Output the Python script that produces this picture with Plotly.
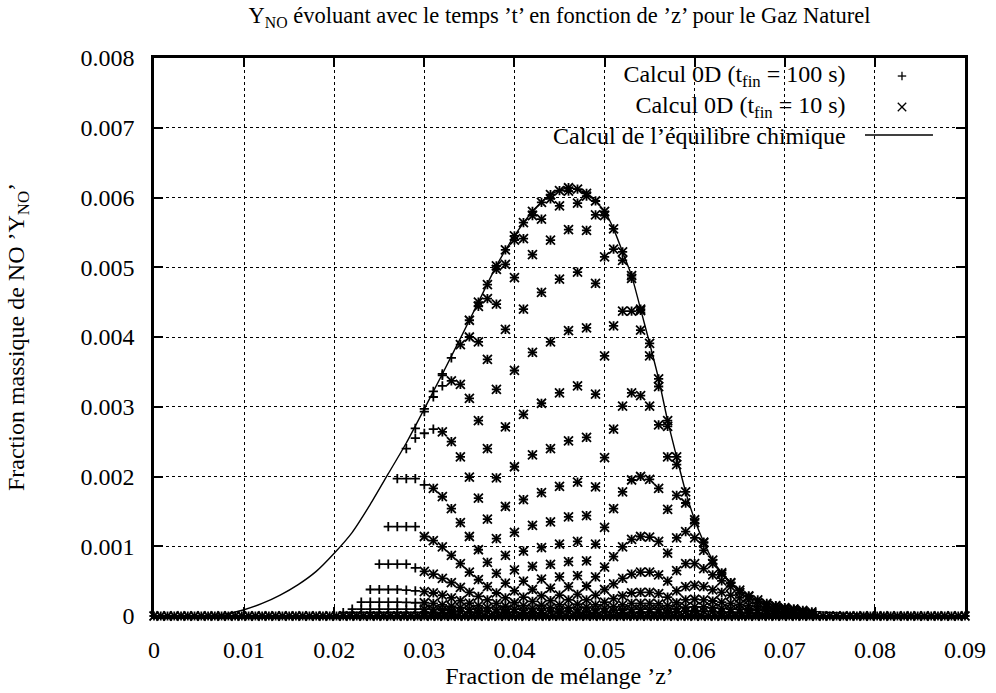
import plotly.graph_objects as go

# ---------------- data (Y_NO values given in units of 1e-3) ----------------
# equilibrium curve
z_eq = [0.000, 0.004, 0.006, 0.008, 0.010, 0.012, 0.014, 0.016, 0.018, 0.020,
        0.022, 0.024, 0.026, 0.028, 0.030, 0.032, 0.034, 0.036, 0.038, 0.040,
        0.042, 0.044, 0.046, 0.048, 0.050, 0.051, 0.052, 0.053, 0.054, 0.055,
        0.056, 0.057, 0.058, 0.059, 0.060, 0.061, 0.062, 0.063, 0.064, 0.065,
        0.066, 0.068, 0.070, 0.072, 0.075, 0.080, 0.085, 0.090]
y_eq_milli = [0.0, 0.0, 0.005, 0.03, 0.09, 0.18, 0.30, 0.45, 0.64, 0.90,
              1.20, 1.60, 2.04, 2.48, 2.97, 3.47, 3.98, 4.50, 5.02, 5.45,
              5.80, 6.04, 6.14, 6.06, 5.80, 5.55, 5.22, 4.88, 4.40, 3.91,
              3.40, 2.80, 2.28, 1.78, 1.38, 1.06, 0.80, 0.62, 0.48, 0.37,
              0.29, 0.18, 0.12, 0.08, 0.05, 0.02, 0.01, 0.005]

# 0D results common to both runs (t <= 10 s), one list per mixture fraction
z_cols = [0.030, 0.031, 0.032, 0.033, 0.034, 0.035, 0.036, 0.037, 0.038, 0.039,
          0.040, 0.041, 0.042, 0.043, 0.044, 0.045, 0.046, 0.047, 0.048, 0.049,
          0.050, 0.051, 0.052, 0.053, 0.054, 0.055, 0.056, 0.057, 0.058, 0.059,
          0.060, 0.061, 0.062, 0.063, 0.064, 0.065, 0.066, 0.067, 0.068, 0.069,
          0.070, 0.071, 0.072, 0.073]
y_cols_milli = [
    [1.14, 0.64, 0.35, 0.19, 0.10, 0.055],
    [1.83, 1.08, 0.60, 0.33, 0.18, 0.095, 0.05],
    [2.64, 1.71, 0.99, 0.54, 0.30, 0.16, 0.086, 0.047],
    [3.37, 2.50, 1.54, 0.87, 0.48, 0.26, 0.14, 0.075, 0.041],
    [3.89, 3.32, 2.28, 1.34, 0.75, 0.41, 0.22, 0.12, 0.064],
    [4.24, 4.00, 3.12, 1.99, 1.14, 0.63, 0.34, 0.185, 0.10, 0.054],
    [4.50, 4.44, 3.93, 2.80, 1.69, 0.95, 0.52, 0.28, 0.15, 0.082, 0.044],
    [4.75, 4.55, 3.68, 2.40, 1.39, 0.77, 0.42, 0.23, 0.12, 0.066],
    [5.02, 4.97, 4.47, 3.25, 1.98, 1.11, 0.61, 0.33, 0.18, 0.096, 0.052],
    [5.25, 5.04, 4.11, 2.71, 1.57, 0.87, 0.47, 0.26, 0.14, 0.075, 0.04],
    [5.45, 5.39, 4.85, 3.52, 2.14, 1.20, 0.66, 0.36, 0.19, 0.10, 0.056],
    [5.64, 5.41, 4.40, 2.89, 1.67, 0.93, 0.50, 0.27, 0.15, 0.08, 0.043],
    [5.80, 5.74, 5.18, 3.78, 2.31, 1.30, 0.71, 0.38, 0.21, 0.11, 0.061],
    [5.93, 5.69, 4.64, 3.05, 1.77, 0.98, 0.53, 0.29, 0.155, 0.084, 0.045],
    [6.04, 5.98, 5.39, 3.93, 2.40, 1.35, 0.74, 0.40, 0.22, 0.12, 0.063],
    [6.10, 5.88, 4.83, 3.20, 1.86, 1.03, 0.56, 0.30, 0.16, 0.089, 0.048],
    [6.14, 6.09, 5.54, 4.09, 2.51, 1.42, 0.78, 0.42, 0.23, 0.12, 0.066],
    [6.12, 5.92, 4.93, 3.30, 1.92, 1.07, 0.58, 0.31, 0.17, 0.092, 0.05],
    [6.06, 6.02, 5.53, 4.13, 2.56, 1.44, 0.79, 0.43, 0.23, 0.126, 0.068],
    [5.95, 5.75, 4.77, 3.18, 1.85, 1.03, 0.56, 0.30, 0.16, 0.088, 0.048],
    [5.80, 5.74, 5.15, 3.73, 2.27, 1.27, 0.70, 0.38, 0.20, 0.11, 0.06],
    [5.55, 5.26, 4.16, 2.68, 1.54, 0.85, 0.46, 0.25, 0.135, 0.073],
    [5.22, 5.10, 4.37, 3.01, 1.78, 0.99, 0.54, 0.29, 0.16, 0.086, 0.046],
    [4.88, 4.84, 4.37, 3.20, 1.95, 1.10, 0.60, 0.33, 0.18, 0.095, 0.052],
    [4.40, 4.38, 4.10, 3.16, 2.00, 1.14, 0.63, 0.34, 0.18, 0.10, 0.054],
    [3.91, 3.73, 3.01, 1.96, 1.13, 0.63, 0.34, 0.18, 0.10, 0.054],
    [3.40, 3.29, 2.74, 1.83, 1.07, 0.59, 0.32, 0.175, 0.094, 0.051],
    [2.80, 2.72, 2.28, 1.53, 0.90, 0.50, 0.27, 0.15, 0.08, 0.043],
    [2.28, 2.17, 1.73, 1.12, 0.65, 0.36, 0.19, 0.105, 0.057],
    [1.78, 1.62, 1.21, 0.75, 0.42, 0.23, 0.126, 0.068],
    [1.38, 1.34, 1.12, 0.75, 0.44, 0.24, 0.13, 0.072],
    [1.06, 1.05, 0.94, 0.68, 0.42, 0.23, 0.13, 0.069],
    [0.80, 0.75, 0.59, 0.375, 0.215, 0.118, 0.064],
    [0.62, 0.60, 0.505, 0.34, 0.20, 0.11, 0.06],
    [0.48, 0.47, 0.42, 0.30, 0.18, 0.10, 0.056],
    [0.37, 0.34, 0.26, 0.165, 0.094, 0.051],
    [0.29, 0.28, 0.23, 0.15, 0.086, 0.047],
    [0.23, 0.195, 0.135, 0.08, 0.045],
    [0.18, 0.16, 0.12, 0.073, 0.041],
    [0.15, 0.14, 0.107, 0.067, 0.038],
    [0.12, 0.114, 0.091, 0.059, 0.035],
    [0.10, 0.097, 0.08, 0.054, 0.032],
    [0.079, 0.068, 0.048, 0.03],
    [0.06, 0.043, 0.026],
]

# later instants, only reached by the t_fin = 100 s run
z_plus_only = [0.021, 0.022, 0.023, 0.024, 0.025, 0.026, 0.027, 0.028, 0.029,
               0.030, 0.031, 0.032, 0.033]
y_plus_only_milli = [
    [0.05],
    [0.10, 0.05],
    [0.20, 0.10, 0.05],
    [0.38, 0.20, 0.10, 0.05],
    [0.745, 0.38, 0.20, 0.10, 0.05],
    [1.28, 0.745, 0.38, 0.20, 0.10, 0.05],
    [1.97, 1.28, 0.745, 0.38, 0.20, 0.10, 0.05],
    [2.40, 1.97, 1.28, 0.745, 0.37, 0.195, 0.10, 0.05],
    [2.69, 2.55, 1.97, 1.28, 0.69, 0.36, 0.19, 0.10, 0.05],
    [2.97, 2.93, 2.62, 1.88],
    [3.22, 3.14, 2.68],
    [3.47, 3.45, 3.30],
    [3.70],
]

# mixtures where no NO is produced (values at zero)
band_z = [round(i * 0.00075, 5) for i in range(121)]
band_y = [0.0] * len(band_z)

x_ticks = [0, 0.01, 0.02, 0.03, 0.04, 0.05, 0.06, 0.07, 0.08, 0.09]
x_tick_labels = ["0", "0.01", "0.02", "0.03", "0.04", "0.05", "0.06", "0.07", "0.08", "0.09"]
y_ticks = [0, 0.001, 0.002, 0.003, 0.004, 0.005, 0.006, 0.007, 0.008]
y_tick_labels = ["0", "0.001", "0.002", "0.003", "0.004", "0.005", "0.006", "0.007", "0.008"]


def flatten(zs, cols):
    xs, ys = [], []
    for z, col in zip(zs, cols):
        for v in col:
            xs.append(z)
            ys.append(v * 1e-3)
    return xs, ys


lat_x, lat_y = flatten(z_cols, y_cols_milli)
po_x, po_y = flatten(z_plus_only, y_plus_only_milli)

FONT = "Liberation Serif"

fig = go.Figure()
fig.add_trace(go.Scatter(
    x=band_z + lat_x + po_x, y=band_y + lat_y + po_y, mode="markers",
    marker=dict(symbol="cross-thin", size=6.6, color="black",
                line=dict(color="black", width=1.8)),
    cliponaxis=False, showlegend=False, name="Calcul 0D (tfin = 100 s)"))
fig.add_trace(go.Scatter(
    x=band_z + lat_x, y=band_y + lat_y, mode="markers",
    marker=dict(symbol="x-thin", size=9, color="black",
                line=dict(color="black", width=1.8)),
    cliponaxis=False, showlegend=False, name="Calcul 0D (tfin = 10 s)"))
fig.add_trace(go.Scatter(
    x=z_eq, y=[v * 1e-3 for v in y_eq_milli], mode="lines",
    line=dict(color="black", width=1.4, shape="spline", smoothing=0.6),
    showlegend=False, name="Calcul de l'équilibre chimique"))

# ---- gnuplot-style key (text on the left, sample on the right) ----
key_text = ("Calcul 0D (t<sub>fin</sub> = 100 s)<br>"
            "Calcul 0D (t<sub>fin</sub> = 10 s)<br>"
            "Calcul de l’équilibre chimique")
fig.add_annotation(x=0.8557, y=0.916, xref="paper", yref="paper", text=key_text,
                   showarrow=False, xanchor="right", yanchor="middle", align="right",
                   font=dict(family=FONT, size=24, color="black"))

sx = 0.9223
sy_plus, sy_cross, sy_line = 0.9677, 0.9122, 0.8620
dx, dy = 0.0052, 0.0075
ln = dict(color="black", width=1.3)
shapes = [
    dict(type="line", xref="paper", yref="paper", x0=sx - dx, x1=sx + dx, y0=sy_plus, y1=sy_plus, line=ln),
    dict(type="line", xref="paper", yref="paper", x0=sx, x1=sx, y0=sy_plus - dy, y1=sy_plus + dy, line=ln),
    dict(type="line", xref="paper", yref="paper", x0=sx - dx, x1=sx + dx, y0=sy_cross - dy, y1=sy_cross + dy, line=ln),
    dict(type="line", xref="paper", yref="paper", x0=sx - dx, x1=sx + dx, y0=sy_cross + dy, y1=sy_cross - dy, line=ln),
    dict(type="line", xref="paper", yref="paper", x0=0.8767, x1=0.9605, y0=sy_line, y1=sy_line,
         line=dict(color="black", width=1.4)),
]

axis_common = dict(
    showline=True, linecolor="black", linewidth=2.5, mirror="ticks",
    ticks="inside", ticklen=9, tickwidth=2, tickcolor="black",
    showgrid=True, gridcolor="black", gridwidth=1, griddash="dot",
    zeroline=False, automargin=False,
    tickfont=dict(family=FONT, size=24, color="black"),
)

fig.update_layout(
    width=996, height=693,
    margin=dict(l=154, r=31, t=58, b=77),
    paper_bgcolor="white", plot_bgcolor="white",
    font=dict(family=FONT, size=24, color="black"),
    title=dict(text="Y<sub>NO</sub> évoluant avec le temps ’t’ en fonction de ’z’ pour le Gaz Naturel",
               x=0.5, xref="paper", xanchor="center", y=0.978, yref="container", yanchor="middle",
               font=dict(family=FONT, size=22.5, color="black")),
    xaxis=dict(range=[0, 0.09], tickvals=x_ticks, ticktext=x_tick_labels,
               ticklabelstandoff=10,
               title=dict(text="Fraction de mélange ’z’", standoff=0,
                          font=dict(family=FONT, size=24, color="black")),
               **axis_common),
    yaxis=dict(range=[0, 0.008], tickvals=y_ticks, ticktext=y_tick_labels,
               ticklabelstandoff=12,
               title=dict(text="Fraction massique de NO ’Y<sub>NO</sub>’", standoff=50,
                          font=dict(family=FONT, size=24, color="black")),
               **axis_common),
    shapes=shapes,
)

fig.write_html("out.html", config={"displayModeBar": False},
               post_script="document.body.style.margin='0px';")
